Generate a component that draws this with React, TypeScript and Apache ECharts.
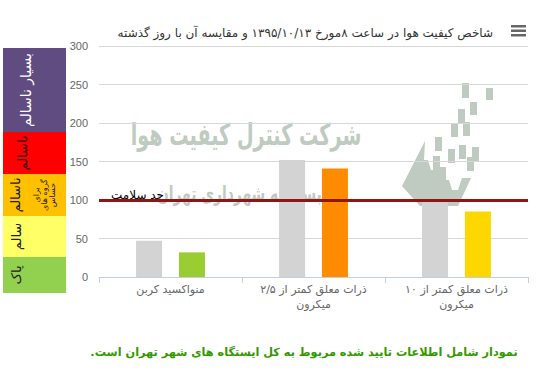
import React, { useEffect, useRef } from "react";
import * as echarts from "echarts";

const categories = [
  "منواکسید کربن",
  "ذرات معلق کمتر از ۲/۵\nمیکرون",
  "ذرات معلق کمتر از ۱۰\nمیکرون",
];
const yesterdayValues = [47, 152, 97];
const todayValues = [32, 141, 85];
const todayColors = ["#9acd32", "#ff8c00", "#ffd700"];
const healthLimit = 100;
const healthLabel = "حد سلامت";
const yMin = 0;
const yMax = 300;
const yInterval = 50;

const titleText = "شاخص کیفیت هوا در ساعت ۸مورخ ۱۳۹۵/۱۰/۱۳ و مقایسه آن با روز گذشته";
const footerText = "نمودار شامل اطلاعات تایید شده مربوط به کل ایستگاه های شهر تهران است.\u200F";

const bandNames = ["بسیار ناسالم", "ناسالم", "ناسالم", "سالم", "پاک"];
const bandSub = "برای\nگروه های\nحساس";
const watermark1 = "شرکت کنترل کیفیت هوا";
const watermark2 = "وابسته به شهرداری تهران";

const FONT = "Tahoma, 'DejaVu Sans', sans-serif";
const WM = "#bfcbc0";

export default function App() {
  const ref = useRef<HTMLDivElement>(null);
  useEffect(() => {
    if (!ref.current) return;
    const chart = echarts.init(ref.current, undefined, { renderer: "svg" });

    const bands = [
      { y: 48, h: 84, color: "#604c80", text: bandNames[0], tx: 26, tc: "#ffffff", fs: 14 },
      { y: 132, h: 42, color: "#ff0000", text: bandNames[1], tx: 22, tc: "#3a0000", fs: 13 },
      { y: 174, h: 42, color: "#ffc000", text: bandNames[2], tx: 15, tc: "#222", fs: 13 },
      { y: 216, h: 41, color: "#ffff66", text: bandNames[3], tx: 16, tc: "#222", fs: 13 },
      { y: 257, h: 36, color: "#92d050", text: bandNames[4], tx: 16, tc: "#222", fs: 13 },
    ];
    const bandEls: any[] = [];
    bands.forEach((b) => {
      bandEls.push({
        type: "rect",
        shape: { x: 3, y: b.y, width: 63, height: b.h },
        style: { fill: b.color },
        z: 5,
      });
      bandEls.push({
        type: "text",
        x: b.tx,
        y: b.y + b.h / 2,
        rotation: Math.PI / 2,
        style: {
          text: b.text,
          fill: b.tc,
          fontSize: b.fs,
          fontFamily: FONT,
          textAlign: "center",
          textVerticalAlign: "middle",
        },
        z: 6,
      });
    });
    bandEls.push({
      type: "text",
      x: 44,
      y: 195,
      rotation: Math.PI / 2,
      style: {
        text: bandSub,
        fill: "#222",
        fontSize: 8,
        lineHeight: 8,
        fontFamily: FONT,
        textAlign: "center",
        textVerticalAlign: "middle",
      },
      z: 6,
    });

    const logoRects = [
      [462, 83, 7, 15], [486, 88, 7, 12], [470, 102, 7, 13], [458, 109, 7, 15],
      [451, 123, 7, 14], [463, 122, 7, 14], [435, 137, 7, 14], [448, 149, 7, 14],
      [459, 145, 7, 14], [472, 147, 7, 14], [433, 156, 7, 14], [467, 157, 7, 14],
      [439, 167, 7, 14],
    ];
    const logoEls: any[] = logoRects.map((r) => ({
      type: "rect",
      shape: { x: r[0], y: r[1], width: r[2], height: r[3] },
      style: { fill: WM },
      z: 0,
    }));
    logoEls.push({
      type: "polygon",
      shape: {
        points: [
          [425, 141], [402, 186], [420, 206], [458, 206], [471, 178], [462, 178],
          [458, 190], [452, 190], [449, 180], [442, 180], [439, 170], [431, 170],
          [428, 160], [424, 160],
        ],
      },
      style: { fill: WM },
      z: 0,
    });

    const option: any = {
      animation: false,
      textStyle: { fontFamily: FONT },
      title: {
        text: titleText,
        right: 41,
        top: 22,
        textStyle: { fontSize: 12, fontWeight: "normal", color: "#333", fontFamily: FONT },
      },
      grid: { left: 99, right: 11, top: 46, bottom: 104, containLabel: false },
      xAxis: {
        type: "category",
        data: categories,
        axisLine: { lineStyle: { color: "#c0d0e0", width: 1 } },
        axisTick: { show: true, length: 6, lineStyle: { color: "#c0d0e0" } },
        axisLabel: {
          interval: 0,
          color: "#666",
          fontSize: 11,
          lineHeight: 15,
          margin: 5,
          fontFamily: FONT,
        },
      },
      yAxis: {
        type: "value",
        min: yMin,
        max: yMax,
        interval: yInterval,
        axisLine: { show: false },
        axisTick: { show: false },
        axisLabel: { color: "#666", fontSize: 11, margin: 11, fontFamily: "'Liberation Sans', sans-serif" },
        splitLine: { lineStyle: { color: "#d8d8d8", width: 1 } },
      },
      series: [
        {
          type: "bar",
          data: yesterdayValues,
          barWidth: 26,
          barGap: "65%",
          itemStyle: { color: "#d3d3d3" },
          z: 3,
          markLine: {
            silent: true,
            symbol: "none",
            z: 4,
            lineStyle: { color: "#8e1616", width: 3, type: "solid" },
            label: { show: false },
            data: [{ yAxis: healthLimit }],
          },
        },
        {
          type: "bar",
          data: todayValues.map((v, i) => ({ value: v, itemStyle: { color: todayColors[i] } })),
          barWidth: 26,
          z: 3,
        },
      ],
      graphic: [
        {
          type: "text",
          x: 246,
          y: 135,
          scaleX: 0.64,
          style: {
            text: watermark1,
            fill: WM,
            fontSize: 30,
            fontWeight: "bold",
            fontFamily: FONT,
            textAlign: "center",
            textVerticalAlign: "middle",
          },
          z: 0,
        },
        {
          type: "text",
          x: 246,
          y: 193,
          scaleX: 0.66,
          style: {
            text: watermark2,
            fill: WM,
            fontSize: 21,
            fontWeight: "bold",
            fontFamily: FONT,
            textAlign: "center",
            textVerticalAlign: "middle",
          },
          z: 0,
        },
        ...logoEls,
        {
          type: "text",
          x: 137.5,
          y: 195,
          style: {
            text: healthLabel,
            fill: "#000",
            fontSize: 12,
            fontFamily: FONT,
            textAlign: "center",
            textVerticalAlign: "middle",
          },
          z: 7,
        },
        ...bandEls,
        { type: "rect", shape: { x: 511, y: 25, width: 15, height: 2.5 }, style: { fill: "#666" }, z: 6 },
        { type: "rect", shape: { x: 511, y: 29.5, width: 15, height: 2.5 }, style: { fill: "#666" }, z: 6 },
        { type: "rect", shape: { x: 511, y: 34, width: 15, height: 2.5 }, style: { fill: "#666" }, z: 6 },
        {
          type: "text",
          x: 304,
          y: 352,
          style: {
            text: footerText,
            fill: "#339900",
            fontSize: 11.3,
            fontWeight: "bold",
            fontFamily: FONT,
            textAlign: "center",
            textVerticalAlign: "middle",
          },
          z: 6,
        },
      ],
    };
    chart.setOption(option);
    return () => chart.dispose();
  }, []);
  return <div ref={ref} style={{ width: 539, height: 381, position: "absolute", left: 0, top: 0 }} />;
}
